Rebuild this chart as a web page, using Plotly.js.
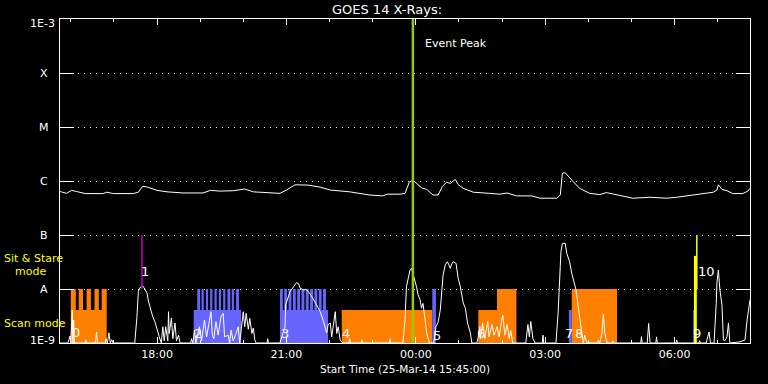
<!DOCTYPE html>
<html><head><meta charset="utf-8">
<script src="https://cdn.plot.ly/plotly-3.0.1.min.js"></script>
<style>html,body{margin:0;padding:0;background:#000;} #chart{width:768px;height:384px;}</style>
</head><body><div id="chart"></div>
<script>
// Start time of the plot: 25-Mar-14 15:45:00 UT; all times below are minutes after it
const START_UTC = Date.UTC(2014, 2, 25, 15, 45);
function t(m){ return new Date(START_UTC + m*60000).toISOString().slice(0,19).replace('T',' '); }

// GOES 14 long channel (1-8 A), W/m^2
const longMin = [0,2,9,16,23,35,60,65,74,102,109,115,122,135,149,171,199,209,223,241,257,269,278,306,315,327,345,362,376,403,431,449,455,473,480,486,491,496,503,510,519,526,532,538,543,550,554,561,575,598,612,622,635,656,668,691,696,699,703,712,723,737,751,760,775,797,821,844,858,890,909,914,916,921,928,936,950,957,960];
const longFlux = [6.3e-7,6.3e-7,5.9e-7,6.7e-7,6.4e-7,5.85e-7,5.85e-7,6.2e-7,5.85e-7,5.85e-7,6.2e-7,8.0e-7,7.7e-7,6.7e-7,6.3e-7,6.0e-7,6.0e-7,6.7e-7,6.5e-7,6.6e-7,7.1e-7,6.3e-7,6.2e-7,5.9e-7,6.8e-7,8.5e-7,8.4e-7,7.7e-7,6.8e-7,6.3e-7,5.5e-7,5.3e-7,5.7e-7,5.7e-7,5.9e-7,9.5e-7,1.04e-6,9.0e-7,7.5e-7,7.0e-7,5.5e-7,5.5e-7,7.9e-7,9.5e-7,9.0e-7,1.07e-6,8.6e-7,7.3e-7,6.2e-7,5.9e-7,5.7e-7,6.0e-7,5.3e-7,5.3e-7,4.8e-7,4.8e-7,5.5e-7,1.4e-6,1.42e-6,1.04e-6,7.3e-7,5.9e-7,5.6e-7,6.1e-7,5.6e-7,4.8e-7,5.0e-7,4.8e-7,5.0e-7,5.7e-7,6.2e-7,6.8e-7,8.5e-7,7.0e-7,6.6e-7,5.85e-7,5.85e-7,6.5e-7,7.3e-7];

// GOES 14 short channel (0.5-4 A), W/m^2
const shortMin = [0,11,14,15,17,18,19,20,35,36,37,49,51,52,63,64,66,68,70,72,74,104,107,109,111,114,115,117,121,123,125,129,132,135,138,141,143,145,147,150,151,152,155,157,160,162,165,167,182,183,185,187,189,194,197,201,204,210,212,214,217,220,224,227,229,234,236,238,241,245,248,250,255,257,259,262,264,267,269,271,273,288,289,290,306,310,313,314,317,320,325,329,332,334,339,343,348,352,357,362,366,371,373,376,378,383,385,387,390,394,402,403,404,419,420,421,458,459,460,477,480,482,485,487,489,491,494,496,498,501,503,505,508,510,514,520,523,526,529,531,533,536,539,541,543,545,547,551,554,557,559,561,564,567,571,573,580,582,584,585,588,591,595,597,601,604,608,611,614,616,619,622,625,627,630,648,651,653,655,658,661,671,672,673,690,693,696,697,699,703,705,709,712,715,718,721,723,726,728,730,733,748,749,751,754,756,758,761,768,769,770,808,809,810,817,819,821,829,830,831,857,858,859,889,890,891,899,900,903,905,910,913,914,916,918,921,923,925,928,930,932,946,953,956,958,960];
const shortFlux = [1e-9,1e-9,1.35e-9,1e-9,4.1e-9,1e-9,2.67e-9,1e-9,1e-9,1.15e-9,1e-9,1e-9,1.6e-9,1e-9,1e-9,1.2e-9,1e-9,1.55e-9,1e-9,1.15e-9,1e-9,1e-9,3e-9,8.9e-9,1.05e-8,1.14e-8,1.14e-8,1.05e-8,8.4e-9,6e-9,4.7e-9,3.07e-9,2.48e-9,1.74e-9,1.31e-9,1e-9,2e-9,1.1e-9,2e-9,1.1e-9,3.8e-9,1.5e-9,2.9e-9,1.2e-9,2.35e-9,1.1e-9,1.4e-9,1e-9,1e-9,1.2e-9,1e-9,1.74e-9,1e-9,2e-9,1.1e-9,2.67e-9,1.3e-9,3.8e-9,1.4e-9,1.2e-9,2.48e-9,1.4e-9,3.07e-9,3.55e-9,1.3e-9,1.4e-9,1e-9,1.74e-9,1.1e-9,1.5e-9,2e-9,1e-9,3.8e-9,2e-9,3.55e-9,1.8e-9,2.86e-9,1.5e-9,1.9e-9,1.14e-9,1e-9,1e-9,1.2e-9,1e-9,1e-9,1.5e-9,2e-9,5.1e-9,7e-9,8.9e-9,1.1e-8,1.31e-8,1.25e-8,1.04e-8,9.6e-9,9.8e-9,8.1e-9,6.7e-9,5.1e-9,3.8e-9,2.67e-9,1.53e-9,2.2e-9,2.35e-9,1.3e-9,3.8e-9,1.5e-9,2e-9,1.1e-9,1e-9,1e-9,1.2e-9,1e-9,1e-9,1.15e-9,1e-9,1e-9,1.2e-9,1e-9,1e-9,2.67e-9,1.1e-8,1.7e-8,2.25e-8,2.42e-8,1.95e-8,1.4e-8,1.1e-8,8e-9,6.3e-9,4.4e-9,5.4e-9,2.67e-9,1.53e-9,1e-9,1e-9,2e-9,2.4e-9,4e-9,1.1e-8,1.8e-8,2.8e-8,3.2e-8,2.8e-8,2.42e-8,2.9e-8,3.2e-8,3e-8,1.58e-8,1.1e-8,7.2e-9,5.5e-9,4.4e-9,2.35e-9,1.53e-9,1e-9,1e-9,1.3e-9,2e-9,1.2e-9,2.3e-9,1.2e-9,2.5e-9,1.3e-9,2.2e-9,1.4e-9,2e-9,1.3e-9,2.4e-9,3.3e-9,1.4e-9,2.2e-9,1.2e-9,1.7e-9,1e-9,1e-9,2.2e-9,1.3e-9,2.5e-9,1.2e-9,1e-9,1e-9,1.4e-9,1e-9,1e-9,3.55e-9,2.6e-8,5e-8,7e-8,7e-8,4.6e-8,3.2e-8,1.95e-8,1.28e-8,9.6e-9,4.7e-9,2.67e-9,1.53e-9,1e-9,1.4e-9,1e-9,1e-9,1.14e-9,1e-9,1.5e-9,3.4e-9,1.5e-9,1e-9,1e-9,1.1e-9,1e-9,1e-9,1.31e-9,1e-9,1e-9,2.3e-9,1e-9,1e-9,1.3e-9,1e-9,1e-9,1.14e-9,1e-9,1e-9,1.1e-9,1e-9,1e-9,1.14e-9,1.6e-9,1e-9,1e-9,5.4e-9,1.3e-8,2.25e-8,1e-8,5e-9,1.14e-9,1.1e-9,1.3e-9,2.35e-9,1e-9,1.05e-9,1.14e-9,2.67e-9,4.4e-9,6.3e-9];

// observing blocks (minutes after start); top level: scan mode / sit & stare mode
const FLOOR = 1e-9, SCAN = 4.1e-9, STARE = 1e-8;
const orangeStart = [15,15,26,37,48,58,392,582,608,712];
const orangeEnd   = [65,22,32,43,54,65,518,608,635,775];
const orangeTop   = [SCAN,STARE,STARE,STARE,STARE,STARE,SCAN,SCAN,STARE,STARE];
const blueStart = [186,191,197,203,209,215,221,227,233,239,245,306,306,312,318,324,330,336,342,348,354,360,366,518,708,881];
const blueEnd   = [252,195,200,206,212,218,224,230,237,242,249,373,310,316,322,328,334,340,346,352,358,364,370,523,712,885];
const blueTop   = [SCAN,STARE,STARE,STARE,STARE,STARE,STARE,STARE,STARE,STARE,STARE,SCAN,STARE,STARE,STARE,STARE,STARE,STARE,STARE,STARE,STARE,STARE,STARE,STARE,SCAN,SCAN];
const yellowStart = [882], yellowEnd = [886], yellowTop = [4.1e-8];

// event markers
const eventPeakMin = 491;
const flareMarkMin = [114, 886];
const flareMarkColor = ['#c000c0', '#ffff00'];
const eventLabels = ['0','1','2','3','4','5','6','7','8','9','10'];
const eventLabelMin = [22,118,192,313,398,524,586,708,722,886,899];
const eventLabelFlux = [1.55e-9,2.1e-8,1.5e-9,1.5e-9,1.5e-9,1.4e-9,1.5e-9,1.5e-9,1.5e-9,1.5e-9,2.1e-8];

const yTickVals = [1e-9,1e-8,1e-7,1e-6,1e-5,1e-4,1e-3];
const yTickText = ['1E-9','A','B','C','M','X','1E-3'];

function rects(s, e, top){
  const x=[], y=[];
  for(let i=0;i<s.length;i++){
    x.push(t(s[i]),t(s[i]),t(e[i]),t(e[i]),t(s[i]),null);
    y.push(FLOOR,top[i],top[i],FLOOR,FLOOR,null);
  }
  return {x,y};
}
function rectTrace(r, color){
  return {x:r.x, y:r.y, type:'scatter', mode:'lines', fill:'toself', fillcolor:color,
          line:{width:0,color:color}, hoverinfo:'skip', showlegend:false};
}

const traces = [];
traces.push(rectTrace(rects(orangeStart,orangeEnd,orangeTop),'#ff8000'));
traces.push(rectTrace(rects(blueStart,blueEnd,blueTop),'#6666ff'));
traces.push(rectTrace(rects(yellowStart,yellowEnd,yellowTop),'#ffff00'));
traces.push({x:shortMin.map(t), y:shortFlux, type:'scatter', mode:'lines', line:{color:'#ffffff',width:1}, showlegend:false});
traces.push({x:longMin.map(t), y:longFlux, type:'scatter', mode:'lines', line:{color:'#ffffff',width:1}, showlegend:false});
flareMarkMin.forEach((m,i)=>{
  traces.push({x:[t(m),t(m)], y:[1e-8,1e-7], type:'scatter', mode:'lines', line:{color:flareMarkColor[i],width:1.5}, showlegend:false});
});
traces.push({x:[t(eventPeakMin),t(eventPeakMin)], y:[1e-9,1e-3], type:'scatter', mode:'lines', line:{color:'#99cc00',width:2.5}, showlegend:false});

const F = 'DejaVu Sans, sans-serif';
const ann = [];
yTickVals.forEach((v,i)=>{
  const edge = (i===0 || i===yTickVals.length-1);
  ann.push({xref:'paper', yref:'y', x: edge ? -0.0045 : -0.0232, y: Math.log10(v),
    xanchor: edge ? 'right':'center', yanchor:'middle', yshift: i===0 ? 3 : (i===yTickVals.length-1 ? -4 : 0),
    text:yTickText[i], showarrow:false, font:{family:F,size:11,color:'#ffffff'}});
});
eventLabels.forEach((s,i)=>{
  ann.push({xref:'x', yref:'y', x:t(eventLabelMin[i]), y:Math.log10(eventLabelFlux[i]), text:s,
    showarrow:false, xanchor:'center', yanchor:'middle', font:{family:F,size:13,color:'#ffffff'}});
});
ann.push({xref:'x', yref:'paper', x:t(eventPeakMin), xshift:10, y:(343-43)/324, xanchor:'left', yanchor:'middle',
  text:'Event Peak', showarrow:false, font:{family:F,size:11,color:'#ffffff'}});
ann.push({xref:'paper', yref:'paper', x:0.5, y:(343-369)/324, xanchor:'center', yanchor:'middle',
  text:'Start Time (25-Mar-14 15:45:00)', showarrow:false, font:{family:F,size:10.5,color:'#ffffff'}});
ann.push({xref:'paper', yref:'paper', x:(2-60)/690, y:(343-258)/324, xanchor:'left', yanchor:'middle',
  text:'Sit & Stare', showarrow:false, font:{family:F,size:11,color:'#ffff00'}});
ann.push({xref:'paper', yref:'paper', x:(13-60)/690, y:(343-271)/324, xanchor:'left', yanchor:'middle',
  text:'mode', showarrow:false, font:{family:F,size:11,color:'#ffff00'}});
ann.push({xref:'paper', yref:'paper', x:(2-60)/690, y:(343-323)/324, xanchor:'left', yanchor:'middle',
  text:'Scan mode', showarrow:false, font:{family:F,size:11,color:'#ffff00'}});

const layout = {
  width:768, height:384,
  margin:{l:60, r:18, t:19, b:41, pad:0},
  paper_bgcolor:'#000000', plot_bgcolor:'#000000',
  showlegend:false,
  title:{text:'GOES 14 X-Rays:', x:387/768, xanchor:'center', xref:'container', y:1-9/384, yref:'container', yanchor:'middle',
         font:{family:F,size:13,color:'#ffffff'}},
  xaxis:{type:'date', range:[t(0), t(960)], showgrid:false, zeroline:false,
         showline:true, linecolor:'#ffffff', linewidth:1, mirror:'ticks',
         ticks:'inside', ticklen:6, tickcolor:'#ffffff', tickwidth:1,
         tick0:'2014-03-25 18:00:00', dtick:3*3600000, tickformat:'%H:%M',
         tickfont:{family:F,size:11,color:'#ffffff'}, ticklabelstandoff:1,
         minor:{dtick:3600000, tick0:'2014-03-25 16:00:00', ticks:'inside', ticklen:3, tickcolor:'#ffffff', showgrid:false}},
  yaxis:{type:'log', range:[-9,-3], tickvals:yTickVals, ticktext:yTickText, showticklabels:false,
         showgrid:true, gridcolor:'#ffffff', gridwidth:1, griddash:'1px,5px', zeroline:false,
         showline:true, linecolor:'#ffffff', linewidth:1, mirror:'ticks',
         ticks:'inside', ticklen:14, tickcolor:'#ffffff', tickwidth:1},
  annotations:ann
};
Plotly.newPlot('chart', traces, layout, {staticPlot:true, displayModeBar:false});
</script></body></html>
